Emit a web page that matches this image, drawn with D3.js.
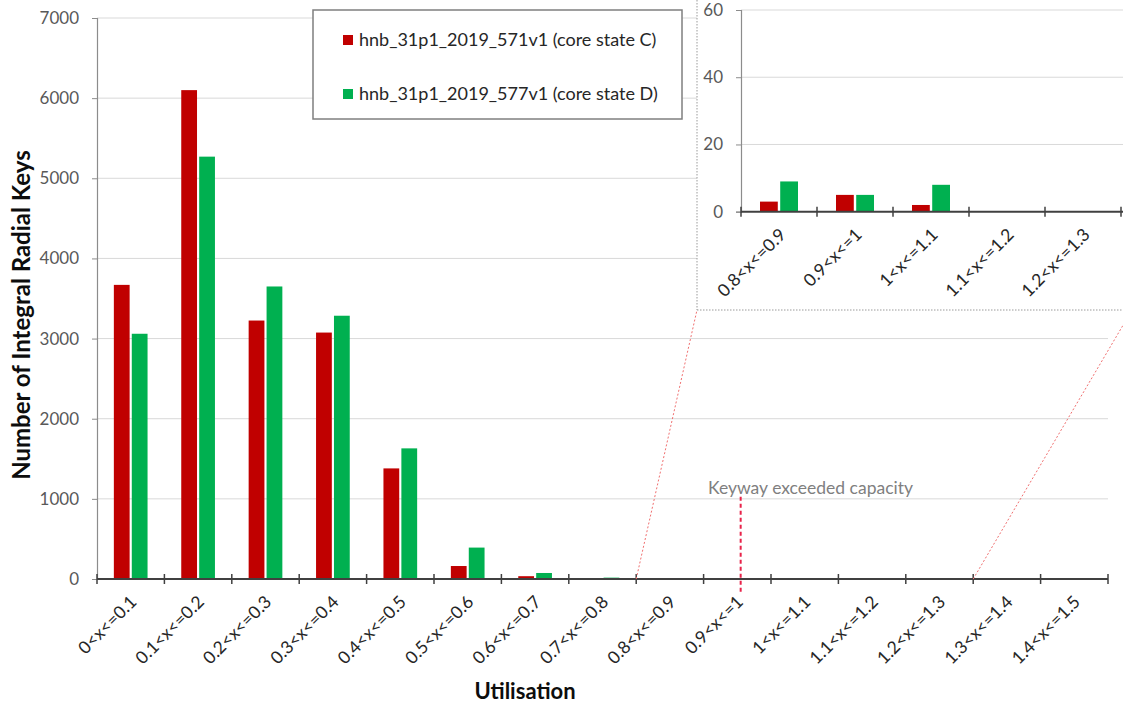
<!DOCTYPE html>
<html>
<head>
<meta charset="utf-8">
<script src="https://cdn.jsdelivr.net/npm/d3@7"></script>
<style>
  html, body { margin: 0; padding: 0; background: #fff; }
  svg { display: block; font-family: Lato, "Open Sans", sans-serif; }
</style>
</head>
<body>
<svg id="chart" width="1123" height="706"></svg>
<script>
// ---- data ----
const categories = ["0<x<=0.1","0.1<x<=0.2","0.2<x<=0.3","0.3<x<=0.4","0.4<x<=0.5","0.5<x<=0.6","0.6<x<=0.7","0.7<x<=0.8","0.8<x<=0.9","0.9<x<=1","1<x<=1.1","1.1<x<=1.2","1.2<x<=1.3","1.3<x<=1.4","1.4<x<=1.5"];
const seriesNames = ["hnb_31p1_2019_571v1 (core state C)", "hnb_31p1_2019_577v1 (core state D)"];
const stateC = [3670, 6100, 3225, 3075, 1380, 162, 35, 4, 3, 5, 2, 0, 0, 0, 0];
const stateD = [3060, 5270, 3650, 3285, 1630, 392, 75, 17, 9, 5, 8, 0, 0, 0, 0];
const mainTicks = [0, 1000, 2000, 3000, 4000, 5000, 6000, 7000];
const insetCategories = ["0.8<x<=0.9","0.9<x<=1","1<x<=1.1","1.1<x<=1.2","1.2<x<=1.3"];
const insetTicks = [0, 20, 40, 60];
const annotationCategory = "0.9<x<=1";
const annotationText = "Keyway exceeded capacity";
const xTitle = "Utilisation";
const yTitle = "Number of Integral Radial Keys";
const colors = ["#C00000", "#00B050"];

const svg = d3.select("#chart");

// ---- main chart ----
const M = { left: 97, right: 1108, top: 18, bottom: 579 };
const x = d3.scaleBand().domain(categories).range([M.left, M.right]).paddingInner(0).paddingOuter(0);
const y = d3.scaleLinear().domain([0, 7000]).range([M.bottom, M.top]);
const sub = d3.scaleBand().domain([0, 1]).range([x.bandwidth() * 0.25, x.bandwidth() * 0.75]).paddingInner(0.12);

const data = categories.map((c, i) => ({ c, v: [stateC[i], stateD[i]] }));

// gridlines
svg.append("g").selectAll("line").data(mainTicks.filter(t => t > 0)).join("line")
  .attr("x1", M.left).attr("x2", M.right)
  .attr("y1", d => y(d)).attr("y2", d => y(d))
  .attr("stroke", "#d9d9d9").attr("stroke-width", 1);

// y axis
const yAxis = d3.axisLeft(y).tickValues(mainTicks).tickSize(5).tickPadding(13).tickFormat(d3.format("d"));
const gy = svg.append("g").attr("transform", `translate(${M.left},0)`).call(yAxis);
gy.select(".domain").attr("stroke", "#8c8c8c").attr("stroke-width", 1.2);
gy.selectAll(".tick line").attr("stroke", "#8c8c8c");
gy.selectAll(".tick text").attr("fill", "#595959").style("font-size", "17px").style("font-family", "Lato");

// bars
const groups = svg.append("g").selectAll("g").data(data).join("g")
  .attr("transform", d => `translate(${x(d.c)},0)`);
groups.selectAll("rect").data(d => d.v.map((v, k) => ({ v, k }))).join("rect")
  .attr("x", d => sub(d.k)).attr("width", sub.bandwidth())
  .attr("y", d => y(d.v)).attr("height", d => y(0) - y(d.v))
  .attr("fill", d => colors[d.k]);

// x axis
const boundaries = d3.range(categories.length + 1).map(i => M.left + i * x.step());
svg.append("line").attr("x1", M.left).attr("x2", M.right).attr("y1", y(0)).attr("y2", y(0))
  .attr("stroke", "#404040").attr("stroke-width", 2);
svg.append("g").selectAll("line").data(boundaries).join("line")
  .attr("x1", d => d).attr("x2", d => d).attr("y1", y(0) - 5).attr("y2", y(0) + 5)
  .attr("stroke", "#404040").attr("stroke-width", 1.5);
svg.append("g").selectAll("text").data(categories).join("text")
  .attr("transform", d => `translate(${x(d) + x.bandwidth() / 2 + 7},${y(0) + 24}) rotate(-45)`)
  .attr("text-anchor", "end")
  .attr("fill", "#262626").style("font-size", "17.5px")
  .text(d => d);

// titles
svg.append("text").attr("x", 525).attr("y", 699).attr("text-anchor", "middle")
  .style("font-size", "22px").style("font-weight", "bold").attr("fill", "#0d0d0d").text(xTitle);
svg.append("text").attr("transform", `translate(30,315) rotate(-90)`).attr("text-anchor", "middle")
  .style("font-size", "24px").style("font-weight", "bold").attr("fill", "#0d0d0d").text(yTitle);

// annotation
const ax = x(annotationCategory) + x.bandwidth() * 0.55;
svg.append("line").attr("x1", ax).attr("x2", ax).attr("y1", y(1000) - 2).attr("y2", y(0) + 13)
  .attr("stroke", "#e8234a").attr("stroke-width", 2).attr("stroke-dasharray", "4,3");
svg.append("text").attr("x", 708).attr("y", 494).style("font-size", "17.5px").attr("fill", "#7f7f7f")
  .text(annotationText);

// ---- inset ----
const I = { boxLeft: 697, boxBottom: 310, boxRight: 1132, left: 741, right: 1121, top: 10, bottom: 211.7 };
const xi = d3.scaleBand().domain(insetCategories).range([I.left, I.right]).paddingInner(0).paddingOuter(0);
const yi = d3.scaleLinear().domain([0, 60]).range([I.bottom, I.top]);
const subi = d3.scaleBand().domain([0, 1]).range([xi.bandwidth() * 0.25, xi.bandwidth() * 0.75]).paddingInner(0.12);

// zoom connector lines
const z0 = x(insetCategories[0]);
const z1 = x(insetCategories[insetCategories.length - 1]) + x.step();
svg.append("line").attr("x1", z0).attr("y1", y(0)).attr("x2", I.boxLeft).attr("y2", I.boxBottom)
  .attr("stroke", "#f07070").attr("stroke-width", 1).attr("stroke-dasharray", "2,2");
svg.append("line").attr("x1", z1).attr("y1", y(0)).attr("x2", I.boxRight).attr("y2", I.boxBottom)
  .attr("stroke", "#f07070").attr("stroke-width", 1).attr("stroke-dasharray", "2,2");

svg.append("rect").attr("x", I.boxLeft).attr("y", 0).attr("width", I.boxRight - I.boxLeft).attr("height", I.boxBottom)
  .attr("fill", "#fff");
svg.append("line").attr("x1", I.boxLeft).attr("x2", I.boxLeft).attr("y1", 0).attr("y2", I.boxBottom)
  .attr("stroke", "#9a9a9a").attr("stroke-dasharray", "1.5,1.5");
svg.append("line").attr("x1", I.boxLeft).attr("x2", 1123).attr("y1", I.boxBottom).attr("y2", I.boxBottom)
  .attr("stroke", "#9a9a9a").attr("stroke-dasharray", "1.5,1.5");

svg.append("g").selectAll("line").data(insetTicks.filter(t => t > 0)).join("line")
  .attr("x1", I.left).attr("x2", 1123).attr("y1", d => yi(d)).attr("y2", d => yi(d))
  .attr("stroke", "#d9d9d9");
const gyi = svg.append("g").attr("transform", `translate(${I.left},0)`)
  .call(d3.axisLeft(yi).tickValues(insetTicks).tickSize(5).tickPadding(13));
gyi.select(".domain").attr("stroke", "#8c8c8c").attr("stroke-width", 1.2);
gyi.selectAll(".tick line").attr("stroke", "#8c8c8c");
gyi.selectAll(".tick text").attr("fill", "#595959").style("font-size", "17px").style("font-family", "Lato");

const insetData = data.filter(d => insetCategories.includes(d.c));
const gi = svg.append("g").selectAll("g").data(insetData).join("g")
  .attr("transform", d => `translate(${xi(d.c)},0)`);
gi.selectAll("rect").data(d => d.v.map((v, k) => ({ v, k }))).join("rect")
  .attr("x", d => subi(d.k)).attr("width", subi.bandwidth())
  .attr("y", d => yi(d.v)).attr("height", d => yi(0) - yi(d.v))
  .attr("fill", d => colors[d.k]);

const bi = d3.range(insetCategories.length + 1).map(i => I.left + i * xi.step());
svg.append("line").attr("x1", I.left).attr("x2", 1123).attr("y1", yi(0)).attr("y2", yi(0))
  .attr("stroke", "#404040").attr("stroke-width", 2);
svg.append("g").selectAll("line").data(bi).join("line")
  .attr("x1", d => d).attr("x2", d => d).attr("y1", yi(0) - 5).attr("y2", yi(0) + 5)
  .attr("stroke", "#404040").attr("stroke-width", 1.5);
svg.append("g").selectAll("text").data(insetCategories).join("text")
  .attr("transform", d => `translate(${xi(d) + xi.bandwidth() / 2 + 8},${yi(0) + 24}) rotate(-45)`)
  .attr("text-anchor", "end")
  .attr("fill", "#262626").style("font-size", "17.5px")
  .text(d => d);

// ---- legend ----
const L = svg.append("g");
L.append("rect").attr("x", 313).attr("y", 10).attr("width", 369).attr("height", 109)
  .attr("fill", "#fff").attr("stroke", "#7f7f7f").attr("stroke-width", 1.5);
seriesNames.forEach((n, k) => {
  const cy = 40 + k * 54;
  L.append("rect").attr("x", 343).attr("y", cy - 5).attr("width", 10).attr("height", 10).attr("fill", colors[k]);
  L.append("text").attr("x", 359).attr("y", cy + 6).style("font-size", "18px").attr("fill", "#262626").text(n);
});
</script>
</body>
</html>
